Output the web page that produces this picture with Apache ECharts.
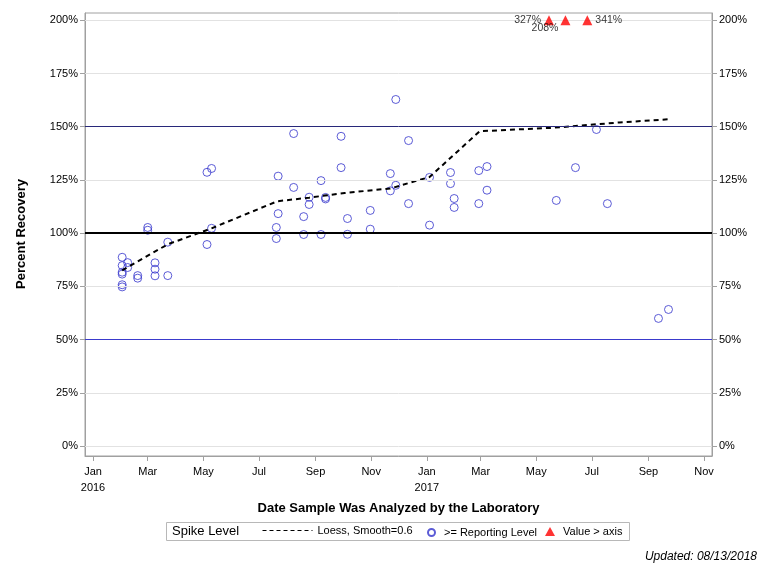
<!DOCTYPE html>
<html><head><meta charset="utf-8">
<script src="https://cdn.jsdelivr.net/npm/echarts@6/dist/echarts.min.js"></script>
<style>html,body{margin:0;padding:0;background:#fff}#c{width:768px;height:576px}</style>
</head><body><div id="c"></div>
<script>
// ---- data ----
const reportDates = [
  '2016-02-02','2016-02-02','2016-02-02','2016-02-02','2016-02-02','2016-02-02',
  '2016-02-08','2016-02-08','2016-02-19','2016-02-19','2016-03-01','2016-03-01',
  '2016-03-09','2016-03-09','2016-03-09','2016-03-23','2016-03-23',
  '2016-05-05','2016-05-05','2016-05-10','2016-05-10',
  '2016-07-20','2016-07-20','2016-07-22','2016-07-22','2016-08-08','2016-08-08',
  '2016-08-19','2016-08-19','2016-08-25','2016-08-25','2016-09-07','2016-09-07',
  '2016-09-12','2016-09-12','2016-09-29','2016-09-29','2016-10-06','2016-10-06',
  '2016-10-31','2016-10-31','2016-11-22','2016-11-22','2016-11-28','2016-11-28',
  '2016-12-12','2016-12-12','2017-01-04','2017-01-04','2017-01-27','2017-01-27',
  '2017-01-31','2017-01-31','2017-02-27','2017-02-27','2017-03-08','2017-03-08',
  '2017-05-23','2017-06-13','2017-07-06','2017-07-18','2017-09-12','2017-09-23'
];
const reportValues = [
  88.7, 84.8, 81.7, 80.8, 75.8, 74.8,
  86.2, 83.9, 80.1, 78.9, 102.7, 101.4,
  86.1, 83.1, 80.0, 95.8, 80.1,
  128.6, 94.7, 130.4, 102.3,
  102.7, 97.5, 126.8, 109.2, 146.8, 121.5,
  107.8, 99.4, 116.9, 113.5, 124.7, 99.4,
  116.8, 116.1, 145.5, 130.8, 106.9, 99.5,
  110.7, 101.9, 128.0, 119.9, 162.8, 122.5,
  143.5, 113.9, 126.2, 103.8, 128.5, 123.3,
  116.3, 112.1, 129.4, 113.9, 131.3, 120.2,
  115.4, 130.8, 148.7, 113.9, 60.0, 64.2
];
const loessDates = ['2016-02-02','2016-03-23','2016-05-10','2016-07-21','2016-08-25','2016-10-03',
  '2016-11-22','2017-01-04','2017-02-28','2017-05-19','2017-07-31','2017-09-23'];
const loessValues = [82.6, 94.8, 102.3, 115.0, 116.7, 118.9, 121.0, 126.4, 147.9, 149.5, 152.0, 153.5];
const overDates = ['2017-05-15','2017-06-02','2017-06-26'];
const overValues = [327, 208, 341];
const axisCap = 200;
const yTicks = [0, 25, 50, 75, 100, 125, 150, 175, 200];
const xTickDates = ['2016-01-01','2016-03-01','2016-05-01','2016-07-01','2016-09-01','2016-11-01',
  '2017-01-01','2017-03-01','2017-05-01','2017-07-01','2017-09-01','2017-11-01'];
const monthNames = ['Jan','Feb','Mar','Apr','May','Jun','Jul','Aug','Sep','Oct','Nov','Dec'];
const xRange = ['2015-12-23 05:30', '2017-11-09 17:00'];
const yRange = [-4.6, 203.4];

// ---- helpers ----
function ts(s) {
  const p = s.split(/[- :]/).map(Number);
  return new Date(p[0], p[1] - 1, p[2], p[3] || 0, p[4] || 0).getTime();
}
const FONT = 'Liberation Sans';
const blue = '#3333cc';

const reportData = reportDates.map((d, i) => [ts(d), reportValues[i]]);
const loessData = loessDates.map((d, i) => [ts(d), loessValues[i]]);
const overLabelStyle = [
  { position: 'left', distance: 3 },
  { position: 'left', distance: 2, offset: [0, 8] },
  { position: 'right', distance: 3 }
];
const overData = overDates.map((d, i) => ({
  value: [ts(d), axisCap, overValues[i]],
  label: overLabelStyle[i]
}));

const gridLines = yTicks.filter(v => v !== 50 && v !== 100 && v !== 150)
  .map(v => ({ yAxis: v, lineStyle: { color: '#e2e2e2', width: 1, type: 'solid' } }));
const refLines = [
  { yAxis: 50, lineStyle: { color: '#3a3acc', width: 1, type: 'solid' } },
  { yAxis: 150, lineStyle: { color: '#28287a', width: 1, type: 'solid' } },
  { yAxis: 100, lineStyle: { color: '#000', width: 2, type: 'solid' } }
];

const yAxisBase = (pos) => ({
  type: 'value', position: pos, min: yRange[0], max: yRange[1],
  axisLine: { show: true, onZero: false, lineStyle: { color: '#a0a0a0' } },
  axisTick: { show: true, inside: false, length: 5, lineStyle: { color: '#a0a0a0' }, customValues: yTicks },
  axisLabel: { customValues: yTicks, formatter: '{value}%', color: '#000', fontSize: 11, fontFamily: FONT, margin: 7 },
  splitLine: { show: false }
});

const xTicks = xTickDates.map(ts);
const chart = echarts.init(document.getElementById('c'), null, { renderer: 'canvas' });
chart.setOption({
  animation: false,
  backgroundColor: '#fff',
  grid: { left: 85, right: 56, top: 13, bottom: 120, show: true, borderColor: '#a0a0a0', borderWidth: 1, backgroundColor: 'transparent' },
  xAxis: {
    type: 'value', position: 'bottom', min: ts(xRange[0]), max: ts(xRange[1]),
    axisLine: { show: true, onZero: false, lineStyle: { color: '#a0a0a0' } },
    axisTick: { show: true, inside: false, length: 5, lineStyle: { color: '#a0a0a0' }, customValues: xTicks },
    axisLabel: {
      customValues: xTicks, color: '#000', fontSize: 11, fontFamily: FONT, margin: 8, lineHeight: 16,
      formatter: (v) => { const d = new Date(v); const m = monthNames[d.getMonth()]; return d.getMonth() === 0 ? m + '\n' + d.getFullYear() : m; }
    },
    splitLine: { show: false }
  },
  yAxis: [yAxisBase('left'), yAxisBase('right')],
  legend: [
    { data: ['Loess, Smooth=0.6'], left: 262, top: 525, itemWidth: 50, itemHeight: 12, padding: 0,
      textStyle: { fontSize: 11, fontFamily: FONT, color: '#000' },
      lineStyle: { width: 1, type: [4, 3], color: '#000' }, itemStyle: { opacity: 0 } },
    { data: ['>= Reporting Level'], left: 427, top: 527, itemWidth: 7, itemHeight: 7, padding: 0,
      textStyle: { fontSize: 11, fontFamily: FONT, color: '#000', padding: [0, 0, 0, 4] } },
    { data: ['Value > axis'], left: 545, top: 526, itemWidth: 10, itemHeight: 9, padding: 0,
      textStyle: { fontSize: 11, fontFamily: FONT, color: '#000', padding: [0, 0, 0, 3] } }
  ],
  graphic: [
    { type: 'rect', shape: { x: 166.5, y: 522.5, width: 463, height: 18 }, style: { fill: 'none', stroke: '#b8b8b8', lineWidth: 1 }, z: 0 },
    { type: 'text', x: 172, y: 531, style: { text: 'Spike Level', font: '13px ' + FONT, fill: '#000', verticalAlign: 'middle' } },
    { type: 'text', x: 398.5, y: 508, style: { text: 'Date Sample Was Analyzed by the Laboratory', font: 'bold 13px ' + FONT, fill: '#000', align: 'center', verticalAlign: 'middle' } },
    { type: 'text', x: 21, y: 234, rotation: Math.PI / 2, style: { text: 'Percent Recovery', font: 'bold 13px ' + FONT, fill: '#000', align: 'center', verticalAlign: 'middle' } },
    { type: 'text', x: 757, y: 557, style: { text: 'Updated: 08/13/2018', font: 'italic 12px ' + FONT, fill: '#000', align: 'right', verticalAlign: 'middle' } }
  ],
  series: [
    {
      name: 'ref', type: 'line', data: [], silent: true,
      markLine: { silent: true, symbol: 'none', label: { show: false }, animation: false, data: gridLines.concat(refLines) }
    },
    {
      name: '>= Reporting Level', type: 'scatter', data: reportData, symbol: 'circle', symbolSize: 8,
      itemStyle: { color: 'transparent', borderColor: blue, borderWidth: 1 }, z: 3
    },
    {
      name: 'Loess, Smooth=0.6', type: 'line', data: loessData, symbol: 'none', smooth: false,
      lineStyle: { color: '#000', width: 2, type: [5, 4] }, z: 4
    },
    {
      name: 'Value > axis', type: 'scatter', data: overData, symbol: 'triangle', symbolSize: 10,
      itemStyle: { color: '#ff0000' }, z: 5,
      label: { show: true, color: '#000', fontSize: 10.5, fontFamily: FONT, formatter: (p) => p.value[2] + '%' }
    }
  ]
});
</script></body></html>
